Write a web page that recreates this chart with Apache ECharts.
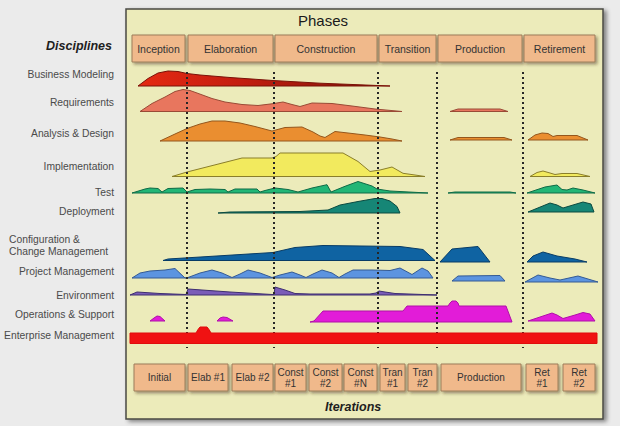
<!DOCTYPE html>
<html><head><meta charset="utf-8">
<script src="https://cdn.jsdelivr.net/npm/echarts@6/dist/echarts.min.js"></script>
<style>html,body{margin:0;padding:0;background:#ebebeb;}#c{width:620px;height:426px;}</style>
</head><body><div id="c"></div>
<script>
// ---- Phases (timeline spans) ----
const phaseNames = ['Inception','Elaboration','Construction','Transition','Production','Retirement'];
const phaseSpans = [[132,185],[188,273],[275,377],[379,436],[438,522],[524,595]];
// ---- Iterations ----
const iterationNames = ['Initial','Elab #1','Elab #2','Const\n#1','Const\n#2','Const\n#N','Tran\n#1','Tran\n#2','Production','Ret\n#1','Ret\n#2'];
const iterationSpans = [[134,185],[188,228],[232,273],[275,306],[309,342],[344,377],[380,405],[408,437],[441,521],[526,558],[563,595]];
// ---- Phase boundaries (dotted) ----
const phaseBoundaries = [187,274,378,437,523];
// ---- Disciplines ----
const disciplineNames = ['Business Modeling','Requirements','Analysis & Design','Implementation','Test','Deployment','Configuration &\nChange Management','Project Management','Environment','Operations & Support','Enterprise Management'];
const disciplineLabelRows = [74,102,133,166,192,211,245,271,295,314,335];

// effort curves: [time, effort] per segment; rows = baseline of each segment
const businessModeling = [[[138,0],[148,7.5],[158,13],[168,15],[178,14.5],[187,12.5],[200,11],[230,8.5],[273,5.5],[320,2.8],[360,1.2],[390,0]]];
const businessModelingRows = [86];
const requirements = [
  [[140,0],[152,8],[165,14.5],[175,20],[183,22],[190,21],[197,18.5],[212,13],[225,9.5],[242,7],[258,6],[272,7.7],[283,9.5],[292,7],[300,5],[312,8.5],[332,8],[352,5.5],[375,2.5],[402,0]],
  [[450,0],[458,2.5],[500,2.5],[508,0]]];
const requirementsRows = [111.5,111.5];
const analysisDesign = [
  [[160,0],[175,7],[187,12.5],[200,17],[212,20],[225,20],[240,18],[255,14.5],[272,10],[285,13.5],[302,14],[313,9],[320,5],[325,3.5],[335,9.5],[348,8],[365,6],[380,4],[392,2],[402,0]],
  [[450,0],[458,2.5],[504,2.5],[512,0]],
  [[528,0],[535,5],[542,7],[548,6.5],[553,3.5],[557,4.5],[577,4.5],[588,0]]];
const analysisDesignRows = [141,140,140];
const implementation = [
  [[172,0],[187,4.5],[242,18.5],[272,18.5],[276,20],[280,23.5],[343,23.5],[358,15],[370,5],[380,6.5],[392,9.5],[403,3.2],[415,1.5],[425,0]],
  [[530,0],[537,4],[543,5.5],[550,3.5],[555,2],[562,3],[577,3],[590,0]]];
const implementationRows = [176.5,176.5];
const test = [
  [[132,0],[145,4],[150,5],[158,4.5],[162,1],[168,4.5],[183,5],[187,1],[195,3.5],[210,4],[225,3.5],[228,1],[235,4],[257,4],[260,1],[265,2.5],[275,5],[288,3.5],[298,1],[312,5],[327,8.3],[331,1],[345,6.7],[358,11.5],[372,7],[377,4],[390,2],[428,0]],
  [[448,0],[455,1],[510,1],[516,0]],
  [[527,0],[545,6],[557,8],[562,3.5],[567,3],[573,5],[583,3],[595,0]]];
const testRows = [193,193,193];
const deployment = [
  [[218,0],[230,1],[300,1.5],[328,3],[340,8],[358,11.5],[375,14.5],[382,14.5],[390,12],[397,6.5],[400,0]],
  [[528,0],[550,9],[557,7],[563,4],[583,10],[591,8],[594,0]]];
const deploymentRows = [213,212];
const configChange = [
  [[163,0],[168,1.5],[273,8],[295,13],[323,15],[400,14],[423,11],[435,0]],
  [[440,0],[452,13],[478,15.5],[490,0]],
  [[527,0],[533,6],[543,10],[557,6],[575,3],[587,0]]];
const configChangeRows = [260.5,262,262];
const projectManagement = [
  [[132,0],[140,5],[150,7],[165,8],[175,9.5],[185,0],[188,0.5],[200,5],[212,8],[222,5],[232,0.5],[240,4],[248,8],[260,5],[272,0.5],[280,3],[292,6],[300,3],[306,0.5],[313,4],[322,8],[332,5],[339,0.5],[345,4],[353,8],[372,8],[390,7.5],[400,10],[412,3.5],[422,10],[428,7],[433,0]],
  [[452,0],[458,5],[500,5.5],[505,0]],
  [[525,0],[538,7],[550,4],[560,2],[578,6],[588,3],[598,0]]];
const projectManagementRows = [278,281,282];
const environment = [
  [[130,0],[137,3],[160,1.5],[186,0.5],[188,6],[230,3],[272,0.5],[274,0.5],[275,8],[285,5],[295,1.5],[310,1],[370,1],[376,2],[379,4],[385,3],[395,1.5],[437,0]]];
const environmentRows = [295];
const operationsSupport = [
  [[150,0],[154,3],[157,5],[160,4.5],[165,0]],
  [[217,0],[220,3],[223,4],[227,3.5],[233,0]],
  [[310,0],[314,1],[323,11],[403,11],[407,16],[448,16],[450,19],[452,21],[456,21],[458,19],[459,16],[506,16],[512,0]],
  [[528,0],[540,4],[552,8],[557,6],[563,2.5],[575,6],[583,8.5],[590,7],[595,0]]];
const operationsSupportRows = [321,321,322,321];
const enterpriseManagement = [
  [[130,0],[130,10.5],[196,10.5],[198,14],[200,16.5],[207,16.5],[209,14],[211,10.5],[597,10.5],[597,0]]];
const enterpriseManagementRows = [343.5];

const FONT = '"Liberation Sans", Arial, sans-serif';
const series = [];
function hump(segs, rows, fill, stroke, z) {
  segs.forEach((seg, i) => {
    const base = rows[i];
    const pts = seg.map(([t, e]) => [t, base - e]);
    pts.push([seg[0][0], base]);
    series.push({
      type: 'line', data: pts, symbol: 'none', silent: true, z: z || 2,
      lineStyle: { color: stroke, width: 1 },
      areaStyle: { color: fill, opacity: 1, origin: base },
      animation: false
    });
  });
}
hump(businessModeling, businessModelingRows,
  { type: 'linear', x: 0, y: 0, x2: 1, y2: 0, colorStops: [{ offset: 0, color: '#e52a12' }, { offset: 0.4, color: '#c41e10' }, { offset: 1, color: '#7a1208' }] }, '#7a1208');
hump(requirements, requirementsRows, '#e8765e', '#9a4a36');
hump(analysisDesign, analysisDesignRows, '#ea8e30', '#94561c');
hump(implementation, implementationRows, '#f2ea5e', '#8a7e2a');
hump(test, testRows, '#22b676', '#0e6a46');
hump(deployment, deploymentRows, '#168676', '#0a4a40');
hump(configChange, configChangeRows, '#0f63a2', '#083c66');
hump(projectManagement, projectManagementRows, '#5c94e0', '#345a94');
hump(environment, environmentRows, '#7a5cb8', '#3e2e70');
hump(operationsSupport, operationsSupportRows, '#e21cd8', '#b010a8');

// dotted phase boundaries
series.push({
  type: 'custom', silent: true, z: 5, animation: false,
  data: phaseBoundaries.map(t => [t, 72, 348]),
  encode: { x: 0, y: [1, 2] },
  renderItem: (params, api) => {
    const a = api.coord([api.value(0), api.value(1)]);
    const b = api.coord([api.value(0), api.value(2)]);
    return { type: 'line', shape: { x1: a[0], y1: a[1], x2: b[0], y2: b[1] },
      style: { stroke: '#262626', lineWidth: 2, lineDash: [2, 3] } };
  }
});
hump(enterpriseManagement, enterpriseManagementRows, '#f01212', '#e00c0c', 6);

function boxes(names, spans, top, bottom, fontSize) {
  series.push({
    type: 'custom', silent: true, z: 7, animation: false,
    data: spans.map((s, i) => [s[0], s[1], top, bottom, names[i]]),
    encode: { x: [0, 1], y: [2, 3] },
    renderItem: (params, api) => {
      const p0 = api.coord([api.value(0), api.value(2)]);
      const p1 = api.coord([api.value(1), api.value(3)]);
      const name = names[params.dataIndex];
      return { type: 'group', children: [
        { type: 'rect', shape: { x: p0[0], y: p0[1], width: p1[0] - p0[0], height: p1[1] - p0[1] },
          style: { fill: '#f0b98b', stroke: '#9c7c5a', lineWidth: 1, shadowBlur: 3, shadowOffsetX: 2, shadowOffsetY: 2, shadowColor: 'rgba(60,40,20,0.45)' } },
        { type: 'text', style: { text: name, x: (p0[0] + p1[0]) / 2, y: (p0[1] + p1[1]) / 2, align: 'center', verticalAlign: 'middle',
          font: fontSize + 'px ' + FONT, fill: '#333', lineHeight: 11 } }
      ] };
    }
  });
}
boxes(phaseNames, phaseSpans, 35, 62, 10.5);
boxes(iterationNames, iterationSpans, 364, 391, 10);

const graphic = [
  { type: 'text', left: 298, top: 13, style: { text: 'Phases', font: '15px ' + FONT, fill: '#1a1a1a' } },
  { type: 'text', right: 508, top: 39, style: { text: 'Disciplines', font: 'italic bold 12.5px ' + FONT, fill: '#1e1e1e' } },
  { type: 'text', left: 325, top: 400, style: { text: 'Iterations', font: 'italic bold 12.5px ' + FONT, fill: '#1e1e1e' } }
];
disciplineNames.forEach((n, i) => {
  const multi = n.indexOf('\n') >= 0;
  graphic.push({ type: 'text', x: multi ? 9 : 114, y: disciplineLabelRows[i], style: { text: n, font: '10.3px ' + FONT, fill: '#4a4a4a', align: multi ? 'left' : 'right', verticalAlign: 'middle', lineHeight: 12 } });
});

const chart = echarts.init(document.getElementById('c'), null, { renderer: 'svg' });
chart.setOption({
  animation: false,
  backgroundColor: '#ebebeb',
  grid: { left: 126, right: 17, top: 9, bottom: 7, show: true, backgroundColor: '#ecebba', borderColor: '#4a4a44', borderWidth: 1.5,
    shadowBlur: 4, shadowColor: 'rgba(0,0,0,0.45)', shadowOffsetX: 3, shadowOffsetY: 2 },
  xAxis: { type: 'value', min: 126, max: 603, show: false },
  yAxis: { type: 'value', min: 9, max: 419, inverse: true, show: false },
  graphic: graphic,
  series: series
});
</script></body></html>
